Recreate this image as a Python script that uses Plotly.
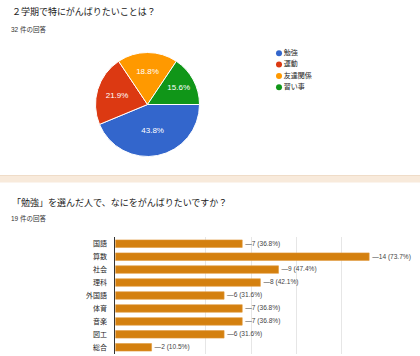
import plotly.graph_objects as go

W, H = 420, 356

# ---- data ----
pie_title = "２学期で特にがんばりたいことは？"
pie_count = "32 件の回答"
pie_labels = ["勉強", "運動", "友達関係", "習い事"]
pie_values = [14, 7, 6, 5]
pie_colors = ["#3366cc", "#dc3912", "#ff9900", "#109618"]

bar_title = "「勉強」を選んだ人で、なにをがんばりたいですか？"
bar_count = "19 件の回答"
bar_total = 19
bar_categories = ["国語", "算数", "社会", "理科", "外国語", "体育", "音楽", "図工", "総合"]
bar_values = [7, 14, 9, 8, 6, 7, 7, 6, 2]
grid_ticks = [5, 7.5, 10, 12.5, 15]

FONT = "Liberation Sans, Arial, Noto Sans CJK JP, sans-serif"


def px_x(x):
    return x / W


def px_y(y):
    return 1 - y / H


fig = go.Figure()

# pie
fig.add_trace(go.Pie(
    labels=pie_labels, values=pie_values, sort=False,
    direction="clockwise", rotation=90,
    marker=dict(colors=pie_colors, line=dict(color="white", width=1)),
    texttemplate="%{percent:.1%}", textposition="inside",
    insidetextorientation="horizontal",
    textfont=dict(color="white", size=8, family=FONT),
    domain=dict(x=[px_x(95.5), px_x(199.5)], y=[px_y(156.5), px_y(52.5)]),
    showlegend=False, hoverinfo="label+percent",
))

# custom legend (circle markers)
fig.add_trace(go.Scatter(
    x=[4] * len(pie_labels), y=pie_labels, mode="markers+text",
    marker=dict(color=pie_colors, size=6),
    text=pie_labels, textposition="middle right",
    textfont=dict(size=7, color="#222222", family=FONT),
    xaxis="x3", yaxis="y3", showlegend=False, hoverinfo="skip",
))

# bars
bar_text = ["—%d (%.1f%%)" % (v, v / bar_total * 100) for v in bar_values]
fig.add_trace(go.Bar(
    y=bar_categories, x=bar_values, orientation="h",
    marker=dict(color="#d4800f", line=dict(color="#e39a3c", width=0.6)),
    text=bar_text, textposition="outside", cliponaxis=False,
    textfont=dict(size=7, color="#444444", family=FONT),
    xaxis="x2", yaxis="y2", showlegend=False,
))

fig.update_layout(
    width=W, height=H, margin=dict(l=0, r=0, t=0, b=0),
    paper_bgcolor="white", plot_bgcolor="rgba(0,0,0,0)",
    font=dict(family=FONT, color="#222222"),
    bargap=0.42,
    xaxis2=dict(domain=[px_x(115.3), px_x(387.3)], range=[0, 15],
                tickvals=grid_ticks, showticklabels=False, ticks="",
                showgrid=True, gridcolor="#e6e6e6", gridwidth=1,
                zeroline=False, showline=False, anchor="y2", fixedrange=True),
    yaxis2=dict(domain=[px_y(353.8), px_y(237.2)], autorange="reversed",
                type="category", showgrid=False, showline=True,
                linecolor="#333333", linewidth=1, ticks="",
                ticklabelstandoff=6,
                tickfont=dict(size=7, color="#222222", family=FONT),
                anchor="x2", fixedrange=True),
    xaxis3=dict(domain=[px_x(275), px_x(335)], range=[0, 60], visible=False,
                anchor="y3", fixedrange=True),
    yaxis3=dict(domain=[px_y(93.25), px_y(47.25)], type="category",
                autorange="reversed", visible=False, anchor="x3",
                fixedrange=True),
    shapes=[
        dict(type="rect", xref="paper", yref="paper", x0=0, x1=1,
             y0=px_y(182.5), y1=px_y(175.5), fillcolor="#f8eadb",
             line=dict(width=0), layer="below"),
        dict(type="line", xref="paper", yref="paper", x0=0, x1=1,
             y0=px_y(175.5), y1=px_y(175.5),
             line=dict(color="#efdcc8", width=1), layer="below"),
    ],
    annotations=[
        dict(text=pie_title, x=px_x(10), y=px_y(12), xref="paper", yref="paper",
             xanchor="left", yanchor="middle", showarrow=False,
             font=dict(size=9, color="#212121", family=FONT)),
        dict(text=pie_count, x=px_x(8.5), y=px_y(29), xref="paper", yref="paper",
             xanchor="left", yanchor="middle", showarrow=False,
             font=dict(size=6.5, color="#333333", family=FONT)),
        dict(text=bar_title, x=px_x(9.5), y=px_y(202), xref="paper", yref="paper",
             xanchor="left", yanchor="middle", showarrow=False,
             font=dict(size=9, color="#212121", family=FONT)),
        dict(text=bar_count, x=px_x(8.5), y=px_y(218.5), xref="paper", yref="paper",
             xanchor="left", yanchor="middle", showarrow=False,
             font=dict(size=6.5, color="#333333", family=FONT)),
    ],
)

fig.write_html("out.html")
